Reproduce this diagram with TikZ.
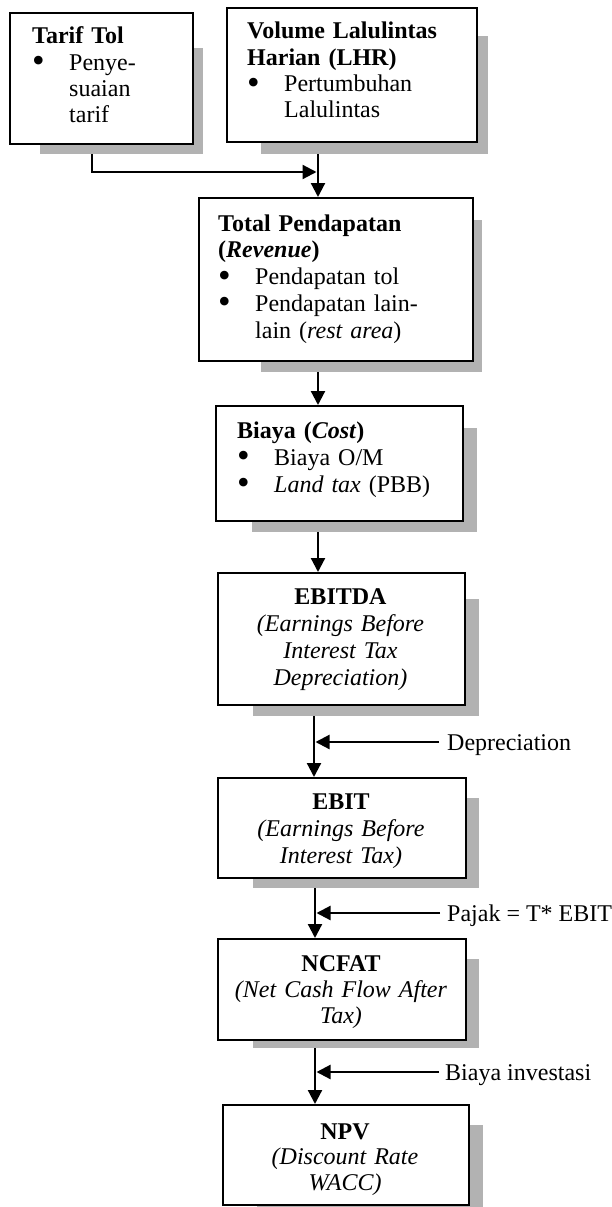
\documentclass[tikz,border=0pt]{standalone}
\usepackage{graphicx}
\usepackage{fontspec}
\setmainfont{Liberation Serif}
\usetikzlibrary{arrows.meta}
\definecolor{shadowc}{RGB}{178,178,178}
\newcommand\mybul{\makebox[37pt][l]{\raisebox{-2.5pt}{\scalebox{1.5}{•}}}}
\newcommand\myind{\hspace*{37pt}}
\begin{document}
\begin{tikzpicture}[x=1pt,y=-1pt,
  box/.style={draw=black,line width=1.8pt,fill=white,anchor=north west,inner sep=0pt},
  shd/.style={fill=shadowc,anchor=north west,inner sep=0pt},
  ltxt/.style={anchor=base west,align=left,inner sep=0pt,text width=#1},
  ctxt/.style={anchor=base,align=center,inner sep=0pt,text width=#1},
  conn/.style={line width=2.2pt,-{Triangle[length=14pt,width=14pt]}},
  side/.style={anchor=west,inner sep=0pt,text height=16pt,text depth=0pt,font=\fontsize{24}{26}\selectfont},
  fs/.style={font=\fontsize{24}{#1}\selectfont}
]
\useasboundingbox (0,0) rectangle (611,1207);

% Tarif Tol
\node[shd,minimum width=163,minimum height=106] (tarsh) at (40,48) {};
\node[box,minimum width=183,minimum height=131] (tar) at (9,12) {};
\node[ltxt=165,fs=26.3] (tart) at (32,44) {\textbf{Tarif Tol}\\\mybul Penye-\\\myind suaian\\\myind tarif};

% Volume
\node[shd,minimum width=227,minimum height=118] (volsh) at (261,36) {};
\node[box,minimum width=250,minimum height=134] (vol) at (226,7) {};
\node[ltxt=225,fs=26.3] (volt) at (247,39) {\textbf{Volume Lalulintas}\\\textbf{Harian (LHR)}\\\mybul Pertumbuhan\\\myind Lalulintas};

% Total Pendapatan
\node[shd,minimum width=221,minimum height=152] (totsh) at (261,220) {};
\node[box,minimum width=274,minimum height=163] (tot) at (198,197) {};
\node[ltxt=250,fs=26.75] (tott) at (218,231) {\textbf{Total Pendapatan}\\\textbf{(\textit{Revenue})}\\\mybul Pendapatan tol\\\mybul Pendapatan lain-\\\myind lain (\textit{rest area})};

% Biaya
\node[shd,minimum width=225,minimum height=104] (biash) at (252,428) {};
\node[box,minimum width=247,minimum height=115] (bia) at (215,405) {};
\node[ltxt=220,fs=27] (biat) at (237,438) {\textbf{Biaya (\textit{Cost})}\\\mybul Biaya O/M\\\mybul \textit{Land tax} (PBB)};

% EBITDA
\node[shd,minimum width=226,minimum height=117] (ebdsh) at (253,599) {};
\node[box,minimum width=247,minimum height=132] (ebd) at (217,572) {};
\node[ctxt=240,fs=27.3] (ebdt) at (340.5,604) {\textbf{EBITDA}\\\textit{(Earnings Before}\\\textit{Interest Tax}\\\textit{Depreciation)}};

% EBIT
\node[shd,minimum width=226,minimum height=90] (ebish) at (253,798) {};
\node[box,minimum width=248,minimum height=100] (ebi) at (217,777) {};
\node[ctxt=240,fs=27] (ebit) at (341,809) {\textbf{EBIT}\\\textit{(Earnings Before}\\\textit{Interest Tax)}};

% NCFAT
\node[shd,minimum width=226,minimum height=89] (ncfsh) at (253,959) {};
\node[box,minimum width=248,minimum height=101] (ncf) at (217,938) {};
\node[ctxt=240,fs=26] (ncft) at (341,971) {\textbf{NCFAT}\\\textit{(Net Cash Flow After}\\\textit{Tax)}};

% NPV
\node[shd,minimum width=226,minimum height=84] (npvsh) at (257,1125) {};
\node[box,minimum width=246,minimum height=100] (npv) at (222,1104) {};
\node[ctxt=240,fs=25.5] (npvt) at (345,1139) {\textbf{NPV}\\\textit{(Discount Rate}\\\textit{WACC)}};

% side labels
\node[side] (dep) at (447,742) {Depreciation};
\node[side] (paj) at (447,913) {Pajak = T* EBIT};
\node[side] (inv) at (445,1072) {Biaya investasi};

% x positions of the vertical connectors
\coordinate (xt) at (92,0);
\coordinate (xa) at (318,0);
\coordinate (xb) at (314,0);
\coordinate (xc) at (315,0);
\coordinate (xbr) at (315.5,0);
\coordinate (xcr) at (316.5,0);
\coordinate (jn) at (316.5,172);

% connectors
\draw[conn] (volsh.south -| xa) -- (tot.north -| xa);
\draw[conn] (tarsh.south -| xt) |- (jn);
\draw[conn] (totsh.south -| xa) -- (bia.north -| xa);
\draw[conn] (biash.south -| xa) -- (ebd.north -| xa);
\draw[conn] (ebdsh.south -| xb) -- (ebi.north -| xb);
\draw[conn] (ebish.south -| xc) -- (ncf.north -| xc);
\draw[conn] (ncfsh.south -| xc) -- (npv.north -| xc);

\draw[conn] ([xshift=-8pt]dep.west) -- (dep.west -| xbr);
\draw[conn] ([xshift=-7pt]paj.west) -- (paj.west -| xcr);
\draw[conn] ([xshift=-6pt]inv.west) -- (inv.west -| xcr);
\end{tikzpicture}
\end{document}
